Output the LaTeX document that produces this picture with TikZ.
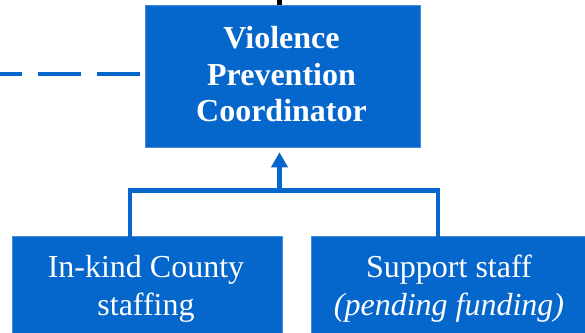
\documentclass[tikz,border=0pt]{standalone}
\usepackage{fontspec}
\setmainfont{Liberation Serif}
\usetikzlibrary{arrows.meta}
\definecolor{boxblue}{RGB}{5,102,204}
\begin{document}
\begin{tikzpicture}[x=1pt,y=-1pt,
  box/.style={fill=boxblue,draw=boxblue!75!white,line width=0.6pt,inner sep=0pt},
  lbl/.style={text=white,align=center,inner sep=0pt,font=\fontsize{32}{38}\selectfont},
  conn/.style={draw=boxblue,line width=4.6pt}]
\useasboundingbox (0,0) rectangle (585,332);
\node[box,minimum width=275pt,minimum height=142pt] (main) at (282.5,76) {};
\node[lbl,font=\fontsize{32}{36.7}\selectfont\bfseries] (maintext) at (281.5,74.2) {Violence\\Prevention\\Coordinator};
\node[box,minimum width=270pt,minimum height=110pt] (left) at (147,291) {};
\node[box,minimum width=280pt,minimum height=110pt] (right) at (451,291) {};
\node[lbl] (lefttext) at (146,288.5) {In-kind County\\staffing};
\node[lbl] (righttext) at (449,288.5) {Support staff\\\textit{(pending funding)}};
\coordinate (top) at (279,0);
\draw[black,line width=5pt] (main.north -| top) -- (top);
\coordinate (dashend) at (0,74);
\draw[conn,dash pattern=on 43pt off 16pt] (main.west |- dashend) ++(-5,0) -- (dashend);
\coordinate (bl) at (130,190.5);
\coordinate (br) at (438,190.5);
\coordinate (bm) at (279.5,190.5);
\draw[conn,line cap=rect] (left.north -| bl) -- (bl) -- (br) -- (right.north -| br);
\draw[conn,-{Triangle[width=16pt,length=15pt]},shorten >=5pt] (bm) -- (main.south -| bm);
\end{tikzpicture}
\end{document}
